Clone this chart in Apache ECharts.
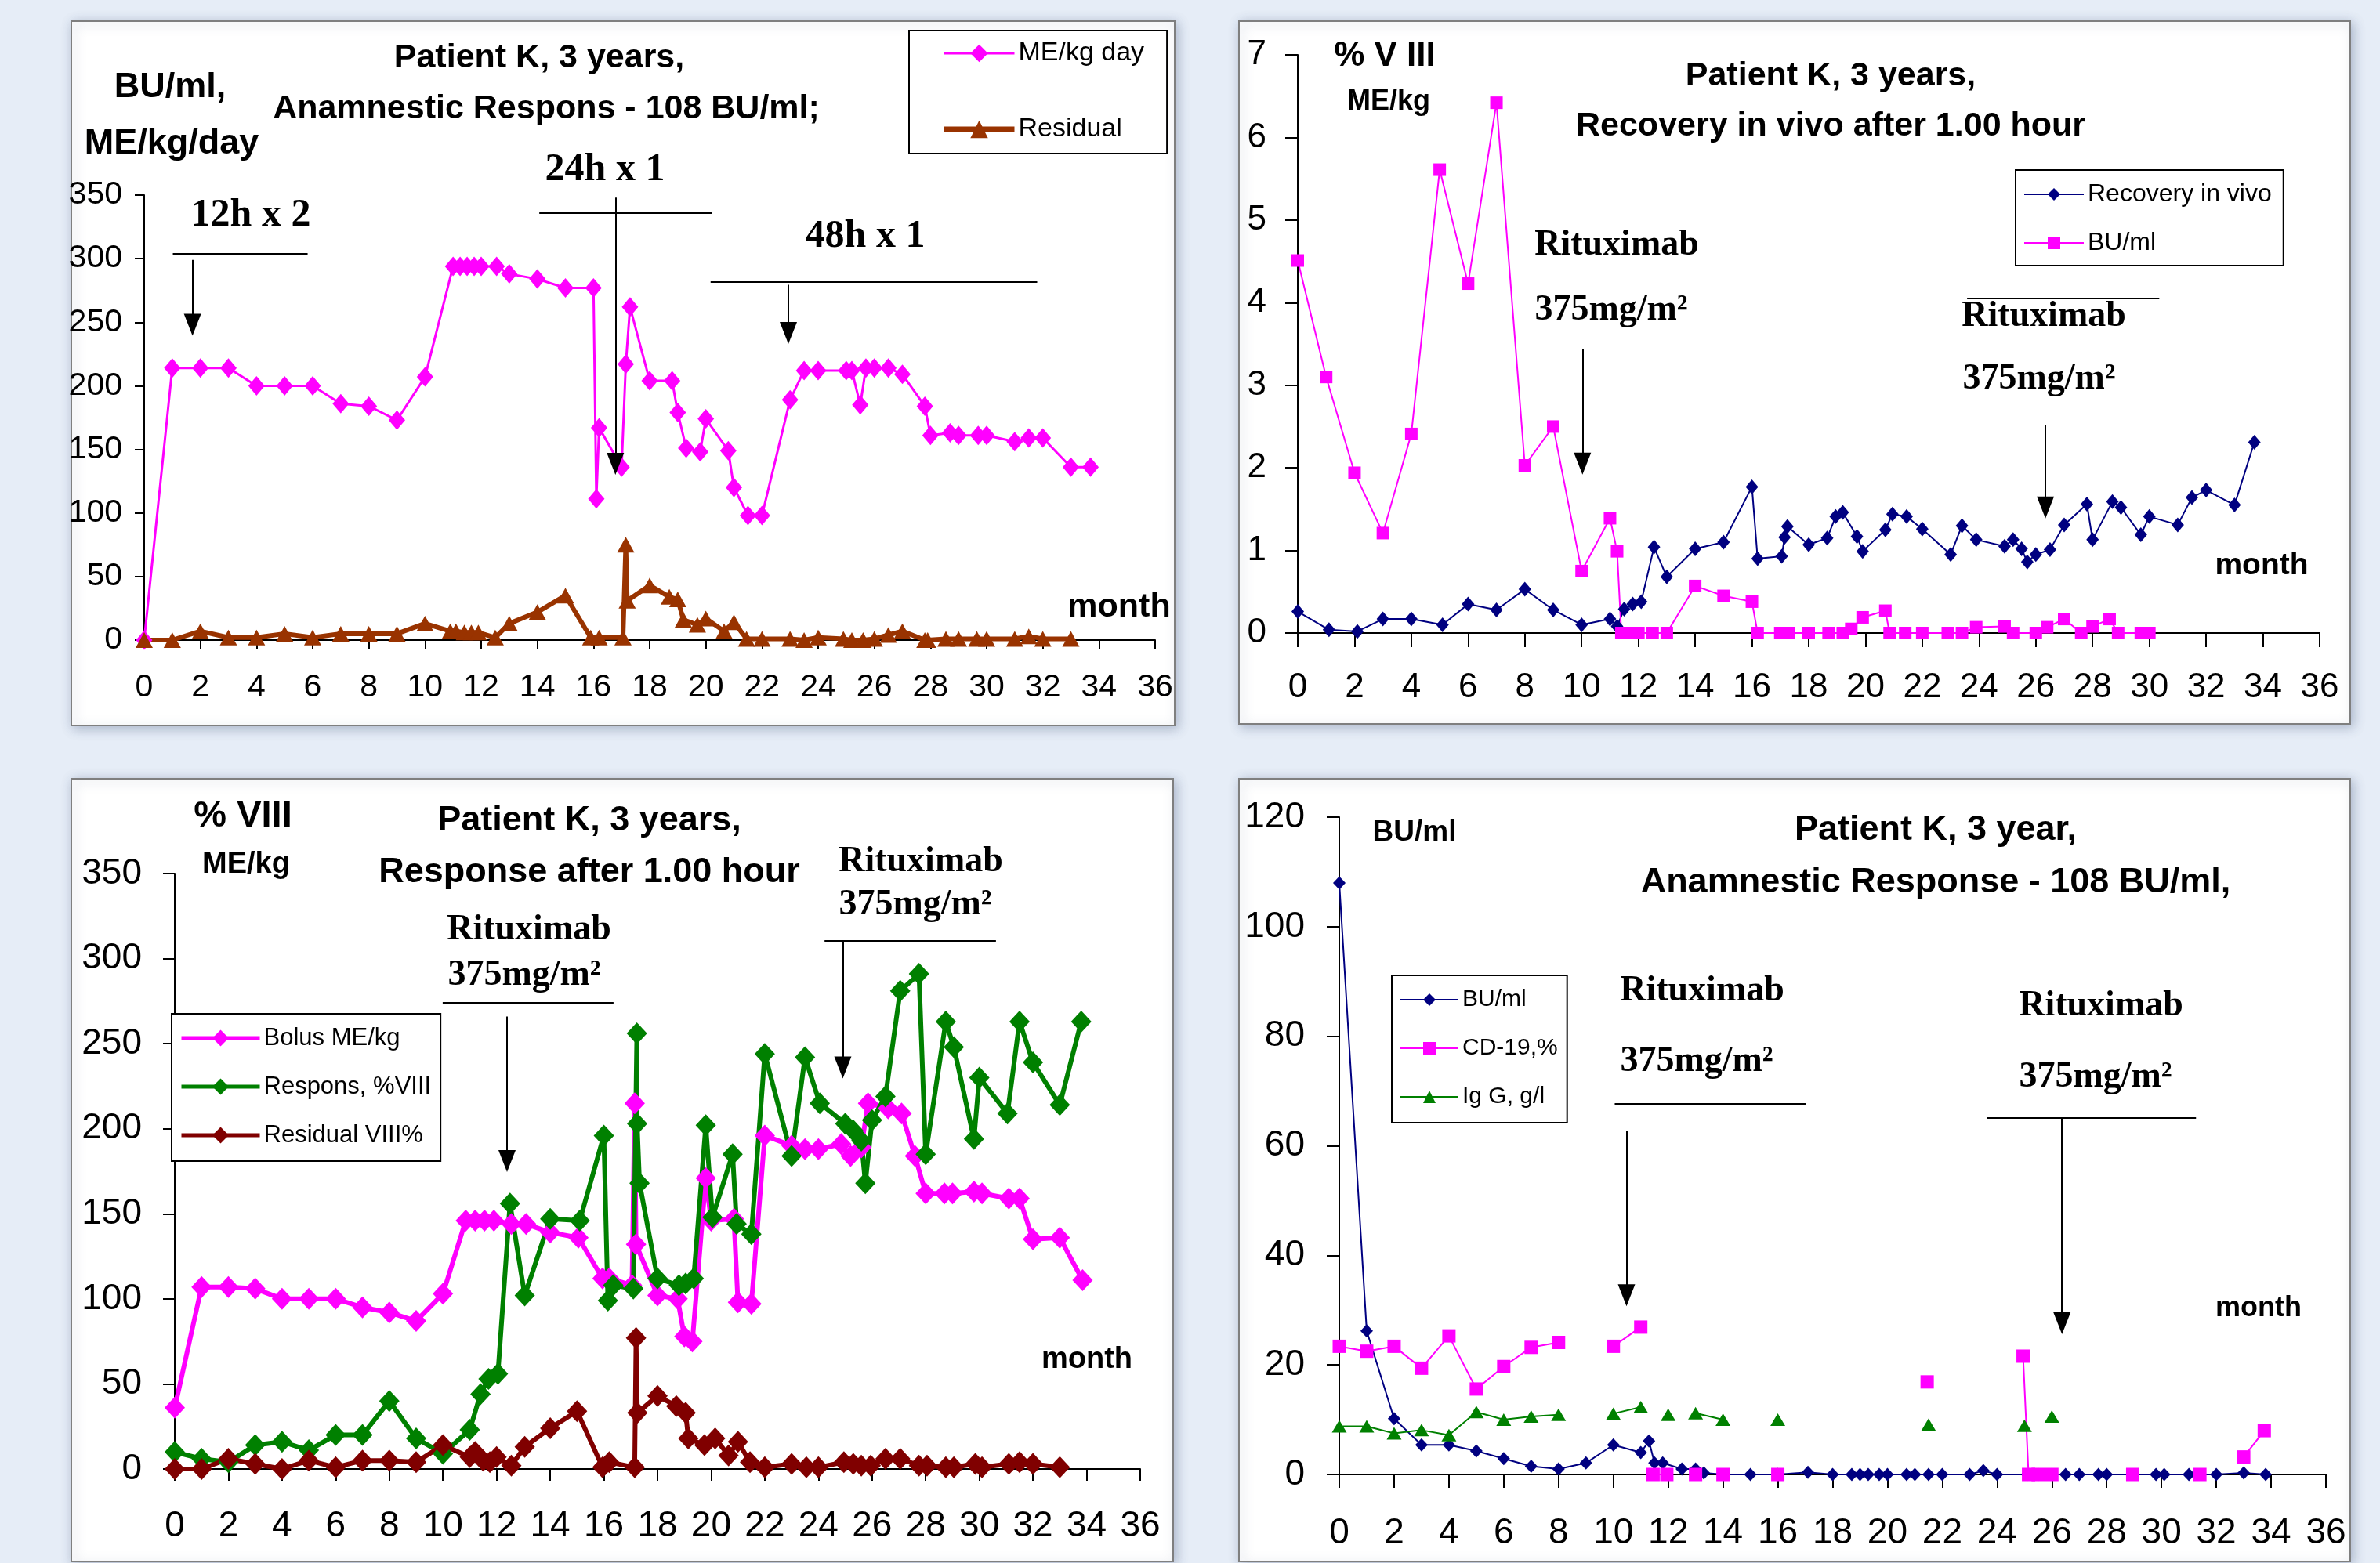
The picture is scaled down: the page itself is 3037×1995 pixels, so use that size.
<!DOCTYPE html>
<html>
<head>
<meta charset="utf-8">
<title>Patient K, 3 years</title>
<script src="https://cdn.jsdelivr.net/npm/echarts@6/dist/echarts.min.js"></script>
<style>
    html, body { margin: 0; padding: 0; background: #e6edf7; }
    #chart { width: 3037px; height: 1995px; }
</style>
</head>
<body>
<div id="chart"></div>
<script>
// panel 1: ME/kg day and residual
let p1MeKgMonths = [0, 1, 2, 3, 4, 5, 6, 7, 8, 9, 10, 11, 11.25, 11.5, 11.75, 12, 12.55, 13, 14, 15,
    16, 16.1, 16.2, 17, 17.15, 17.3, 18, 18.8, 19, 19.3, 19.8, 20, 20.8, 21, 21.5, 22, 23, 23.5, 24, 25,
    25.2, 25.5, 25.7, 26, 26.5, 27, 27.8, 28, 28.7, 29, 29.7, 30, 31, 31.5, 32, 33, 33.7];
let p1MeKgValues = [0, 214, 214, 214, 200, 200, 200, 186, 184, 173, 207, 294, 294, 294, 294, 294, 294, 288, 284, 277,
    277, 111, 167, 136, 217, 262, 204, 204, 179, 151, 148, 174, 149, 120, 98, 98, 189, 212, 212, 212,
    212, 185, 214, 214, 214, 209, 184, 161, 163, 161, 161, 161, 156, 159, 159, 136, 136];
let p1ResidualMonths = [0, 1, 2, 3, 4, 5, 6, 7, 8, 9, 10, 10.9, 11.1, 11.4, 11.65, 11.9, 12.5, 13, 14, 15,
    15.9, 16.2, 17.05, 17.15, 17.2, 18, 18.7, 19, 19.2, 19.7, 20, 20.65, 21, 21.45, 22, 23, 23.5, 24, 24.9, 25.2,
    25.6, 26, 26.5, 27, 27.8, 27.9, 28.55, 29, 29.65, 30, 31, 31.5, 32, 33];
let p1ResidualValues = [0, 0, 7, 2, 2, 5, 2, 5, 5, 5, 13, 7, 7, 6, 6, 6, 2, 13, 22, 35,
    2, 2, 2, 75, 31, 43, 34, 32, 16, 12, 17, 7, 14, 1, 1, 1, 0, 2, 1, 0,
    0, 1, 4, 7, 0, 0, 1, 1, 1, 1, 1, 3, 1, 1];

// panel 2: recovery in vivo and BU/ml
let p2RecoveryMonths = [0, 1.1, 2.1, 3, 4, 5.1, 6, 7, 8, 9, 10, 11, 11.25, 11.5, 11.8, 12.1, 12.55, 13, 14, 15,
    16, 16.2, 17.05, 17.15, 17.25, 18, 18.65, 18.95, 19.2, 19.7, 19.9, 20.7, 20.95, 21.45, 22, 23, 23.4, 23.9, 24.9, 25.2,
    25.5, 25.7, 26, 26.5, 27, 27.8, 28, 28.7, 29, 29.7, 30, 31, 31.5, 32, 33, 33.7];
let p2RecoveryValues = [0.26, 0.04, 0.02, 0.17, 0.17, 0.1, 0.35, 0.28, 0.53, 0.28, 0.1, 0.17, 0.08, 0.29, 0.35, 0.38, 1.04, 0.68, 1.02, 1.1,
    1.77, 0.9, 0.93, 1.16, 1.29, 1.07, 1.15, 1.41, 1.46, 1.17, 0.99, 1.25, 1.44, 1.41, 1.26, 0.95, 1.3, 1.13, 1.05, 1.13,
    1.02, 0.86, 0.95, 1.01, 1.31, 1.56, 1.13, 1.59, 1.52, 1.19, 1.41, 1.31, 1.64, 1.73, 1.55, 2.31];
let p2BuMonths = [0, 1, 2, 3, 4, 5, 6, 7, 8, 9, 10, 11, 11.25, 11.4, 11.7, 12, 12.5, 13, 14, 15, 16, 16.2,
    17, 17.3, 18, 18.7, 19.2, 19.5, 19.9, 20.7, 20.85, 21.4, 22, 22.9, 23.4, 23.9, 24.9, 25.2, 26, 26.4,
    27, 27.6, 28, 28.6, 28.9, 29.7, 30];
let p2BuValues = [4.51, 3.1, 1.94, 1.21, 2.41, 5.61, 4.23, 6.42, 2.03, 2.5, 0.75, 1.39, 0.99, 0, 0, 0, 0, 0, 0.57, 0.45, 0.38, 0,
    0, 0, 0, 0, 0, 0.05, 0.19, 0.27, 0, 0, 0, 0, 0, 0.07, 0.08, 0, 0, 0.07,
    0.17, 0, 0.08, 0.17, 0, 0, 0];

// panel 3: bolus, response, residual
let p3BolusMonths = [0, 1, 2, 3, 4, 5, 6, 7, 8, 9, 10, 10.85, 11.2, 11.55, 11.9, 12.55, 13.1, 14, 15.05, 15.95,
    16.2, 17.05, 17.15, 17.2, 18, 18.75, 19, 19.3, 19.8, 20, 20.85, 21, 21.5, 22, 23, 23.5, 24, 24.85, 25.2, 25.6,
    25.85, 26.6, 27.1, 27.6, 28, 28.7, 29, 29.8, 30.1, 31.1, 31.5, 32, 33, 33.85];
let p3BolusValues = [36, 107, 107, 106, 100, 100, 100, 95, 92, 87, 103, 146, 146, 146, 146, 144, 144, 139, 136, 112,
    112, 108, 215, 132, 102, 100, 78, 75, 171, 146, 147, 98, 97, 196, 190, 188, 188, 191, 184, 189,
    215, 212, 209, 184, 162, 162, 162, 163, 162, 159, 159, 135, 136, 111];
let p3ResponsMonths = [0, 1, 2, 3, 4, 5, 6, 7, 8, 9, 10, 11, 11.4, 11.7, 12.05, 12.5, 13.05, 14, 15.1, 16,
    16.15, 16.35, 17.1, 17.23, 17.24, 17.33, 18, 18.8, 19.05, 19.35, 19.8, 20.05, 20.8, 20.95, 21.5, 22, 23, 23.5, 24.05, 25,
    25.3, 25.6, 25.75, 26, 26.5, 27.05, 27.75, 28, 28.75, 29.05, 29.8, 30, 31.05, 31.5, 32, 33, 33.8];
let p3ResponsValues = [10, 6, 4, 14, 16, 11, 20, 20, 40, 18, 9, 23, 44, 53, 56, 156, 102, 147, 146, 196,
    99, 108, 106, 256, 203, 168, 112, 108, 109, 112, 202, 148, 185, 144, 138, 244, 184, 242, 215, 203,
    199, 193, 168, 205, 219, 281, 291, 185, 263, 248, 194, 230, 209, 263, 239, 214, 263];
let p3ResidualMonths = [0, 1, 2, 3, 4, 5, 6, 7, 8, 9, 10, 11, 11.2, 11.5, 11.75, 12, 12.55, 13.05, 14, 15,
    15.95, 16.2, 17.15, 17.2, 17.25, 18, 18.7, 19.05, 19.15, 19.75, 20.15, 20.65, 21, 21.45, 22, 23, 23.55, 24, 24.95, 25.3,
    25.6, 25.95, 26.5, 27.05, 27.75, 28.05, 28.75, 29.05, 29.85, 30.1, 31.1, 31.5, 32, 33];
let p3ResidualValues = [0, 0, 6, 3, 0, 5, 1, 5, 5, 4, 14, 7, 10, 5, 4, 7, 2, 13, 24, 34,
    1, 4, 1, 77, 33, 43, 37, 33, 18, 14, 18, 8, 16, 4, 1, 3, 1, 1, 4, 3,
    2, 2, 6, 6, 2, 2, 1, 1, 3, 1, 3, 4, 3, 1];

// panel 4: BU/ml, CD-19 and IgG (null = gap in the line)
let p4BuMonths = [0, 1, 2, 3, 4, 5, 6, 7, 8, 9, 10, 11, 11.3, 11.5, 11.8, 12.5, 13, 13.3, 14, 15,
    16, 17.1, 18, 18.7, 19, 19.3, 19.7, 20, 20.7, 21, 21.5, 22, 23, 23.5, 24, 25.1, 25.5, 26, 26.5, 27,
    27.7, 28, 29.8, 30.1, 31, 32, 33, 33.8];
let p4BuValues = [108, 26.2, 10.2, 5.4, 5.4, 4.3, 2.9, 1.5, 1, 2.1, 5.4, 4, 6.1, 2.1, 2.1, 1, 1, 0.3, 0, 0,
    0, 0.4, 0, 0, 0, 0, 0, 0, 0, 0, 0, 0, 0, 0.7, 0, 0, 0, 0, 0, 0,
    0, 0, 0, 0, 0, 0, 0.3, 0];
let p4Cd19Months = [0, 1, 2, 3, 4, 5, 6, 7, 8, 9, 10, 11, 11.2, 11.45, 11.95, 12.5, 13, 13.5, 14, 15,
    16, 17, 21.45, 22, 24.95, 25.15, 25.5, 26, 27, 28.95, 30, 31.4, 32, 33, 33.75];
let p4Cd19Values = [23.4, 22.5, 23.4, 19.4, 25.3, 15.6, 19.7, 23.2, 24.1, null, 23.4, 26.9, null, 0, 0, null, 0, null, 0, null,
    0, null, 16.9, null, 21.6, 0, 0, 0, null, 0, null, 0, null, 3.2, 8];
let p4IgGMonths = [0, 1, 2, 3, 4, 5, 6, 7, 8, 9, 10, 11, 11.5, 12, 12.5, 13, 14, 15, 16, 17, 21.5, 22, 25, 25.5, 26];
let p4IgGValues = [8.8, 8.8, 7.5, 8.1, 7.2, 11.4, 10, 10.6, 10.9, null, 11.1, 12.3, null, 10.9, null, 11.2, 10, null, 10, null,
    9.1, null, 8.9, null, 10.6];

let sans = '"Liberation Sans", Arial, sans-serif';
let serif = '"Liberation Serif", "Times New Roman", serif';

let chart = echarts.init(document.getElementById('chart'));

function pairs(months, values) {
    return months.map(function (m, i) {
        return [m, values[i] === null ? '-' : values[i]];
    });
}

function makeXAxis(gridIndex, fontSize, margin, tickLen) {
    return {
        type: 'value',
        gridIndex: gridIndex,
        min: 0,
        max: 36,
        interval: 2,
        axisLine: {show: true, onZero: false, lineStyle: {color: '#000', width: 2}},
        axisTick: {show: true, length: tickLen, lineStyle: {color: '#000', width: 2}},
        axisLabel: {color: '#000', fontSize: fontSize, fontFamily: sans, margin: margin},
        splitLine: {show: false}
    };
}

function makeYAxis(gridIndex, max, interval, fontSize, margin, tickLen) {
    return {
        type: 'value',
        gridIndex: gridIndex,
        min: 0,
        max: max,
        interval: interval,
        axisLine: {show: true, onZero: false, lineStyle: {color: '#000', width: 2}},
        axisTick: {show: true, length: tickLen, lineStyle: {color: '#000', width: 2}},
        axisLabel: {color: '#000', fontSize: fontSize, fontFamily: sans, margin: margin},
        splitLine: {show: false}
    };
}

function makeLine(name, gridIndex, data, color, width, symbol, size, opt) {
    return Object.assign({
        type: 'line',
        name: name,
        xAxisIndex: gridIndex,
        yAxisIndex: gridIndex,
        data: data,
        symbol: symbol,
        symbolSize: size,
        showAllSymbol: true,
        connectNulls: false,
        animation: false,
        lineStyle: {color: color, width: width},
        itemStyle: {color: color},
        emphasis: {disabled: true}
    }, opt || {});
}

// arrows and bars drawn in data coordinates
function bar(x1, x2, y) {
    return [{coord: [x1, y], symbol: 'none'}, {coord: [x2, y], symbol: 'none'}];
}

function arrow(x, y1, y2) {
    return [{coord: [x, y1], symbol: 'none'}, {coord: [x, y2], symbol: 'triangle', symbolSize: [22, 28]}];
}

function notes(list) {
    return {
        markLine: {
            silent: true,
            animation: false,
            symbol: 'none',
            label: {show: false},
            lineStyle: {color: '#000', width: 2, type: 'solid'},
            emphasis: {disabled: true},
            data: list
        }
    };
}

function entry(name, width) {
    return {name: name, lineStyle: {width: width}};
}

function makeLegend(items, left, top, fontSize, lineHeight, gap, itemWidth, itemHeight, padding) {
    return {
        data: items,
        orient: 'vertical',
        left: left,
        top: top,
        itemGap: gap,
        itemWidth: itemWidth,
        itemHeight: itemHeight,
        padding: padding,
        borderColor: '#000',
        borderWidth: 2,
        backgroundColor: '#fff',
        selectedMode: false,
        textStyle: {color: '#000', fontSize: fontSize, fontFamily: sans, lineHeight: lineHeight}
    };
}

function panel(x, y, w, h) {
    return {
        type: 'rect', z: -10, silent: true,
        shape: {x: x, y: y, width: w, height: h},
        style: {fill: '#fff', stroke: '#7f7f7f', lineWidth: 2, shadowBlur: 14, shadowColor: 'rgba(60,80,120,0.35)', shadowOffsetX: 3, shadowOffsetY: 3}
    };
}

function text(x, y, str, size, weight, family) {
    return {
        type: 'text', x: x, y: y, z: 5, silent: true,
        style: {
            text: str, fill: '#000',
            font: weight + ' ' + size + 'px ' + family,
            textAlign: 'center', textVerticalAlign: 'middle', verticalAlign: 'middle'
        }
    };
}

let option = {
    backgroundColor: '#e6edf7',
    animation: false,
    grid: [
        {left: 184, top: 249, width: 1290, height: 568},
        {left: 1656, top: 70, width: 1304, height: 738},
        {left: 223, top: 1115, width: 1232, height: 760},
        {left: 1709, top: 1043, width: 1259, height: 839}
    ],
    xAxis: [
        makeXAxis(0, 41, 40, 12),
        makeXAxis(1, 44, 48, 18),
        makeXAxis(2, 46, 50, 15),
        makeXAxis(3, 46, 52, 17)
    ],
    yAxis: [
        makeYAxis(0, 350, 50, 41, 28, 12),
        makeYAxis(1, 7, 1, 44, 40, 16),
        makeYAxis(2, 350, 50, 46, 42, 15),
        makeYAxis(3, 120, 20, 46, 44, 16)
    ],
    legend: [
        makeLegend([entry('ME/kg day', 3), entry('Residual', 7)], 1160, 39, 34, 40, 57, 90, 28, [9, 29, 11, 41]),
        makeLegend([entry('Recovery in vivo', 2), entry('BU/ml', 2)], 2572, 217, 32, 36, 26, 76, 20, [13, 15, 11, 10]),
        makeLegend([entry('Bolus ME/kg', 5), entry('Respons, %VIII', 5), entry('Residual VIII%', 5)],
            219, 1294, 31, 36, 26, 100, 26, [13, 12, 15, 10]),
        makeLegend([entry('BU/ml ', 2), entry('CD-19,%', 2), entry('Ig G, g/l', 2)], 1776, 1245, 30, 34, 28, 74, 20, [14, 12, 16, 10])
    ],
    series: [
        makeLine('ME/kg day', 0, pairs(p1MeKgMonths, p1MeKgValues), '#ff00ff', 3, 'diamond', [21, 25],
            notes([bar(1.02, 5.82, 303.8), arrow(1.72, 299, 248),
                bar(14.07, 20.21, 335.8), arrow(16.78, 348, 138.6),
                bar(20.17, 31.8, 282), arrow(22.94, 279.5, 241.5)])),
        makeLine('Residual', 0, pairs(p1ResidualMonths, p1ResidualValues), '#993300', 6, 'triangle', [22, 20]),

        makeLine('Recovery in vivo', 1, pairs(p2RecoveryMonths, p2RecoveryValues), '#000080', 2, 'diamond', [16, 19],
            notes([arrow(10.03, 3.44, 2.05), bar(23.58, 30.35, 4.05), arrow(26.34, 2.52, 1.52)])),
        makeLine('BU/ml', 1, pairs(p2BuMonths, p2BuValues), '#ff00ff', 2, 'rect', 16),

        makeLine('Bolus ME/kg', 2, pairs(p3BolusMonths, p3BolusValues), '#ff00ff', 6, 'diamond', [26, 28],
            notes([bar(9.99, 16.36, 274.3), arrow(12.39, 265.9, 181),
                bar(24.23, 30.62, 310.7), arrow(24.91, 310.7, 236)])),
        makeLine('Respons, %VIII', 2, pairs(p3ResponsMonths, p3ResponsValues), '#008000', 6, 'diamond', [26, 28]),
        makeLine('Residual VIII%', 2, pairs(p3ResidualMonths, p3ResidualValues), '#800000', 6, 'diamond', [26, 28]),

        makeLine('BU/ml ', 3, pairs(p4BuMonths, p4BuValues), '#000080', 2, 'diamond', [16, 17],
            notes([bar(10.05, 17.03, 67.7), arrow(10.48, 62.8, 32.7),
                bar(23.63, 31.26, 65.1), arrow(26.37, 65.1, 27.6)])),
        makeLine('CD-19,%', 3, pairs(p4Cd19Months, p4Cd19Values), '#ff00ff', 2, 'rect', 17),
        makeLine('Ig G, g/l', 3, pairs(p4IgGMonths, p4IgGValues), '#008000', 2, 'triangle', [19, 16])
    ],
    graphic: {
        elements: [
            panel(91, 27, 1408, 899),
            panel(1581, 27, 1418, 897),
            panel(91, 994, 1406, 999),
            panel(1581, 994, 1418, 999),

            text(688, 74, 'Patient K, 3 years,', 43, 'bold', sans),
            text(697, 139, 'Anamnestic Respons - 108 BU/ml;', 43, 'bold', sans),
            text(217, 112, 'BU/ml,', 45, 'bold', sans),
            text(219, 184, 'ME/kg/day', 45, 'bold', sans),
            text(320, 275, '12h x 2', 50, 'bold', serif),
            text(772, 217, '24h x 1', 50, 'bold', serif),
            text(1104, 302, '48h x 1', 50, 'bold', serif),
            text(1428, 775, 'month', 43, 'bold', sans),

            text(2336, 97, 'Patient K, 3 years,', 43, 'bold', sans),
            text(2336, 161, 'Recovery in vivo after 1.00 hour', 43, 'bold', sans),
            text(1767, 72, '% V III', 44, 'bold', sans),
            text(1772, 130, 'ME/kg', 36, 'bold', sans),
            text(2063, 313, 'Rituximab', 46, 'bold', serif),
            text(2056, 396, '375mg/m²', 46, 'bold', serif),
            text(2608, 404, 'Rituximab', 46, 'bold', serif),
            text(2602, 484, '375mg/m²', 46, 'bold', serif),
            text(2886, 722, 'month', 39, 'bold', sans),

            text(752, 1048, 'Patient K, 3 years,', 45, 'bold', sans),
            text(752, 1114, 'Response after 1.00 hour', 45, 'bold', sans),
            text(310, 1042, '% VIII', 47, 'bold', sans),
            text(314, 1104, 'ME/kg', 38, 'bold', sans),
            text(675, 1187, 'Rituximab', 46, 'bold', serif),
            text(669, 1245, '375mg/m²', 46, 'bold', serif),
            text(1175, 1100, 'Rituximab', 46, 'bold', serif),
            text(1168, 1155, '375mg/m²', 46, 'bold', serif),
            text(1387, 1736, 'month', 38, 'bold', sans),

            text(2470, 1060, 'Patient K, 3 year,', 45, 'bold', sans),
            text(2470, 1127, 'Anamnestic Response - 108 BU/ml,', 45, 'bold', sans),
            text(1805, 1063, 'BU/ml', 37, 'bold', sans),
            text(2172, 1265, 'Rituximab', 46, 'bold', serif),
            text(2165, 1355, '375mg/m²', 46, 'bold', serif),
            text(2681, 1284, 'Rituximab', 46, 'bold', serif),
            text(2674, 1375, '375mg/m²', 46, 'bold', serif),
            text(2882, 1670, 'month', 36, 'bold', sans)
        ]
    }
};

chart.setOption(option);
</script>
</body>
</html>
